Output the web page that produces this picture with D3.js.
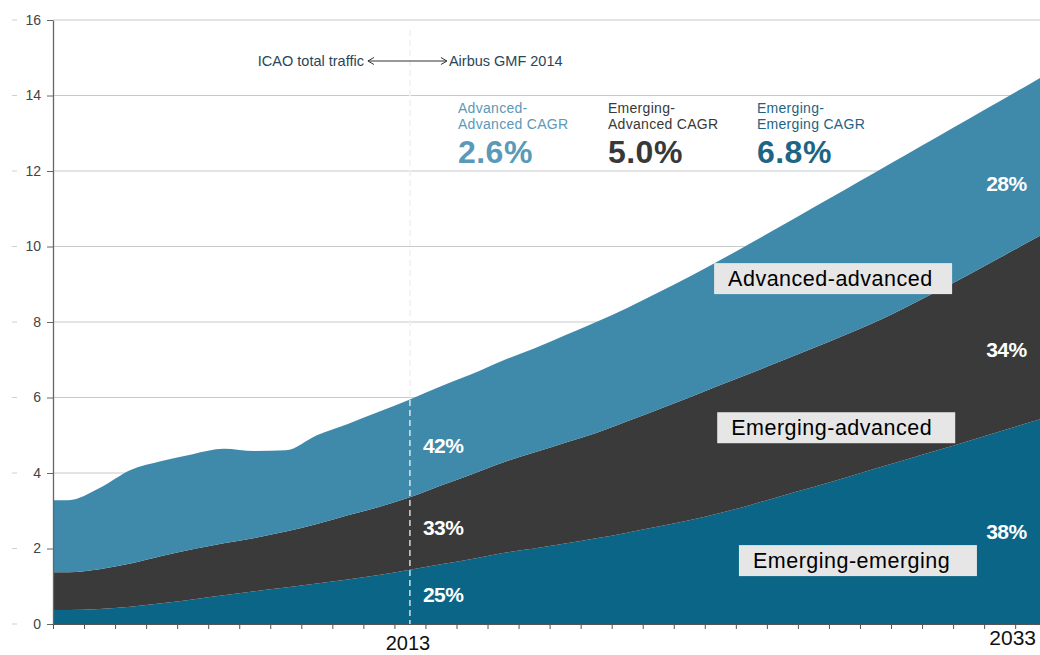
<!DOCTYPE html>
<html>
<head>
<meta charset="utf-8">
<script src="https://cdn.jsdelivr.net/npm/d3@7/dist/d3.min.js"></script>
<style>
body { margin: 0; background: #fff; }
text { font-family: "Liberation Sans", Arial, Helvetica, sans-serif; }
</style>
</head>
<body>
<div id="chart"></div>
<script>
// traffic in trillion RPK (ICAO history, Airbus GMF 2014 forecast)
var years = d3.range(2002, 2034);
var emergingEmerging = [0.37,0.40,0.46,0.55,0.65,0.76,0.87,0.97,1.07,1.18,1.30,1.44,1.58,1.72,1.88,2.00,
                        2.13,2.27,2.42,2.58,2.75,2.94,3.16,3.40,3.63,3.87,4.12,4.36,4.60,4.85,5.10,5.35];
var emergingAdvanced = [1.00,1.05,1.14,1.25,1.33,1.38,1.41,1.48,1.58,1.70,1.80,1.92,2.09,2.25,2.40,2.54,
                        2.67,2.79,2.95,3.10,3.25,3.39,3.49,3.58,3.68,3.78,3.88,4.04,4.22,4.40,4.60,4.80];
var advancedAdvanced = [1.91,2.15,2.48,2.52,2.52,2.50,2.30,2.15,2.35,2.42,2.52,2.59,2.63,2.65,2.70,2.76,
                        2.85,2.94,3.00,3.10,3.20,3.31,3.45,3.58,3.72,3.85,3.97,4.04,4.09,4.13,4.15,4.17];
var yTicks = [0, 2, 4, 6, 8, 10, 12, 14, 16];

var seriesKeys = ["ee", "ea", "aa"];
var seriesColors = ["#0b6587", "#3b3a3a", "#3f89aa"];
var seriesNames = ["Emerging-emerging", "Emerging-advanced", "Advanced-advanced"];
// where the boxed names sit: [year of left edge, value of top edge]
var nameSpots = [[2023.6, 2.09], [2022.9, 5.61], [2022.8, 9.56]];

var shares2013 = ["25%", "33%", "42%"];
var shareSpots2013 = [0.79, 2.57, 4.74];
var shares2033 = ["38%", "34%", "28%"];
var shareSpots2033 = [2.46, 7.28, 11.66];

var cagrTitles = [["Advanced-", "Advanced CAGR"], ["Emerging-", "Advanced CAGR"], ["Emerging-", "Emerging CAGR"]];
var cagrValues = ["2.6%", "5.0%", "6.8%"];
var cagrColors = ["#5b99b8", "#383838", "#1e6484"];

var splitYear = 2013;
var endYear = 2033;

var width = 1040, height = 655;
var margin = { top: 20, right: 0, bottom: 31, left: 53 };

var svg = d3.select("#chart").append("svg")
    .attr("width", width)
    .attr("height", height);

// each year sits in the middle of its tick band
var x = d3.scaleLinear()
    .domain([2001.5, 2033.3])
    .range([margin.left, width - margin.right]);
var y = d3.scaleLinear()
    .domain([0, 16])
    .range([height - margin.bottom, margin.top]);

var table = years.map(function(yr, i) {
  return { year: yr, ee: emergingEmerging[i], ea: emergingAdvanced[i], aa: advancedAdvanced[i] };
});
// carry the first/last year out to the plot edges along the local trend
function edgeRow(a, b, atYear) {
  var t = (atYear - a.year) / (a.year - b.year);
  var r = { year: atYear };
  seriesKeys.forEach(function(k) { r[k] = a[k] + (a[k] - b[k]) * t; });
  return r;
}
var n = table.length;
var first = Object.assign({}, table[0], { year: x.domain()[0] });
var last = edgeRow(table[n - 1], table[n - 2], x.domain()[1]);
var rows = [first].concat(table, [last]);

var stack = d3.stack().keys(seriesKeys);
var layers = stack(rows);

// gridlines
svg.append("g")
  .selectAll("line")
  .data(yTicks.filter(function(d) { return d > 0; }))
  .enter().append("line")
  .attr("x1", x.range()[0])
  .attr("x2", x.range()[1])
  .attr("y1", function(d) { return y(d); })
  .attr("y2", function(d) { return y(d); })
  .attr("stroke", "#c9c9c9")
  .attr("stroke-width", 1);

// faint marks left of the tick labels
svg.append("g")
  .selectAll("line")
  .data(yTicks)
  .enter().append("line")
  .attr("x1", 12).attr("x2", 17)
  .attr("y1", function(d) { return y(d); })
  .attr("y2", function(d) { return y(d); })
  .attr("stroke", "#d0d0d0");

// dashed 2013 divider, grey part (shows on white only)
svg.append("line")
  .attr("x1", x(splitYear)).attr("x2", x(splitYear))
  .attr("y1", y(16) + 10).attr("y2", y(0) + 4)
  .attr("stroke", "#c4c4c4")
  .attr("stroke-dasharray", "6,4");

var area = d3.area()
  .curve(d3.curveMonotoneX)
  .x(function(d) { return x(d.data.year); })
  .y0(function(d) { return y(d[0]); })
  .y1(function(d) { return y(d[1]); });

svg.append("g")
  .selectAll("path")
  .data(layers)
  .enter().append("path")
  .attr("d", area)
  .attr("fill", function(d, i) { return seriesColors[i]; });

// dashed divider, white part over the areas
svg.append("line")
  .attr("x1", x(splitYear)).attr("x2", x(splitYear))
  .attr("y1", y(16) + 10).attr("y2", y(0) + 4)
  .attr("stroke", "#ffffff")
  .attr("stroke-width", 1.2)
  .attr("stroke-dasharray", "6,4");

// axes
var yAxis = d3.axisLeft(y)
  .tickValues(yTicks)
  .tickSize(6)
  .tickSizeOuter(0)
  .tickPadding(6);
var gy = svg.append("g")
  .attr("transform", "translate(" + x.range()[0] + ",0)")
  .call(yAxis);
gy.select(".domain").attr("stroke", "#666").attr("stroke-width", 1.3);
gy.selectAll(".tick line").attr("stroke", "#666");
gy.selectAll(".tick text")
  .attr("fill", "#444")
  .style("font-size", "14px")
  .style("font-family", "'Liberation Sans', Arial, sans-serif");

var tickYears = d3.range(2001.5, 2033.3, 1);
var xAxis = d3.axisBottom(x)
  .tickValues(tickYears)
  .tickSize(5)
  .tickSizeOuter(0)
  .tickFormat("");
var gx = svg.append("g")
  .attr("transform", "translate(0," + y(0) + ")")
  .call(xAxis);
gx.select(".domain").attr("stroke", "#555");
gx.selectAll(".tick line").attr("stroke", "#555");

svg.append("text")
  .attr("x", x(splitYear) - 2)
  .attr("y", 650)
  .attr("text-anchor", "middle")
  .style("font-size", "20px")
  .attr("fill", "#111")
  .text(splitYear);
svg.append("text")
  .attr("x", x.range()[1] - 4)
  .attr("y", 645)
  .attr("text-anchor", "end")
  .style("font-size", "21px")
  .attr("fill", "#111")
  .text(endYear);

// share labels at 2013 and 2033
svg.append("g")
  .selectAll("text")
  .data(shares2013)
  .enter().append("text")
  .attr("x", x(splitYear) + 13)
  .attr("y", function(d, i) { return y(shareSpots2013[i]); })
  .attr("dy", "0.36em")
  .attr("fill", "#fff")
  .style("font-size", "21px")
  .style("font-weight", "bold")
  .style("letter-spacing", "-0.5px")
  .text(function(d) { return d; });
svg.append("g")
  .selectAll("text")
  .data(shares2033)
  .enter().append("text")
  .attr("x", x(endYear) - 4)
  .attr("y", function(d, i) { return y(shareSpots2033[i]); })
  .attr("dy", "0.36em")
  .attr("text-anchor", "end")
  .attr("fill", "#fff")
  .style("font-size", "21px")
  .style("font-weight", "bold")
  .style("letter-spacing", "-0.5px")
  .text(function(d) { return d; });

// boxed series names
var names = svg.append("g")
  .selectAll("g")
  .data(seriesNames)
  .enter().append("g")
  .attr("transform", function(d, i) {
    return "translate(" + x(nameSpots[i][0]) + "," + y(nameSpots[i][1]) + ")";
  });
names.append("rect")
  .attr("width", 238)
  .attr("height", 31)
  .attr("fill", "#e6e6e6");
names.append("text")
  .attr("x", 14)
  .attr("y", 23)
  .attr("fill", "#000")
  .style("font-size", "21.5px")
  .style("letter-spacing", "0.5px")
  .text(function(d) { return d; });

// CAGR block
var cagrX = [x(splitYear) + 48, x(splitYear) + 198, x(splitYear) + 347];
var cagr = svg.append("g")
  .selectAll("g")
  .data(cagrValues)
  .enter().append("g")
  .attr("transform", function(d, i) { return "translate(" + cagrX[i] + ",0)"; });
cagr.append("text")
  .attr("y", 113)
  .attr("fill", function(d, i) { return cagrColors[i]; })
  .style("font-size", "14px")
  .style("letter-spacing", "0.3px")
  .text(function(d, i) { return cagrTitles[i][0]; });
cagr.append("text")
  .attr("y", 129)
  .attr("fill", function(d, i) { return cagrColors[i]; })
  .style("font-size", "14px")
  .style("letter-spacing", "0.3px")
  .text(function(d, i) { return cagrTitles[i][1]; });
cagr.append("text")
  .attr("y", 163)
  .attr("fill", function(d, i) { return cagrColors[i]; })
  .style("font-size", "32px")
  .style("font-weight", "bold")
  .style("letter-spacing", "0.5px")
  .text(function(d) { return d; });

// ICAO <-> Airbus annotation
var defs = svg.append("defs");
defs.append("marker")
  .attr("id", "arrowhead")
  .attr("viewBox", "-8 -5 10 10")
  .attr("refX", 0).attr("refY", 0)
  .attr("markerWidth", 10).attr("markerHeight", 10)
  .attr("markerUnits", "userSpaceOnUse")
  .attr("orient", "auto-start-reverse")
  .append("path")
  .attr("d", "M-6,-3.5L0,0L-6,3.5")
  .attr("fill", "none")
  .attr("stroke", "#333")
  .attr("stroke-width", 1);

var annY = 61;
svg.append("line")
  .attr("x1", x(splitYear) - 42).attr("x2", x(splitYear) + 37)
  .attr("y1", annY).attr("y2", annY)
  .attr("stroke", "#333")
  .attr("stroke-width", 1)
  .attr("marker-start", "url(#arrowhead)")
  .attr("marker-end", "url(#arrowhead)");
svg.append("text")
  .attr("x", x(splitYear) - 46)
  .attr("y", annY + 5)
  .attr("text-anchor", "end")
  .attr("fill", "#2a4657")
  .style("font-size", "14.5px")
  .text("ICAO total traffic");
svg.append("text")
  .attr("x", x(splitYear) + 39)
  .attr("y", annY + 5)
  .attr("fill", "#2a4657")
  .style("font-size", "14.5px")
  .text("Airbus GMF 2014");
</script>
</body>
</html>
